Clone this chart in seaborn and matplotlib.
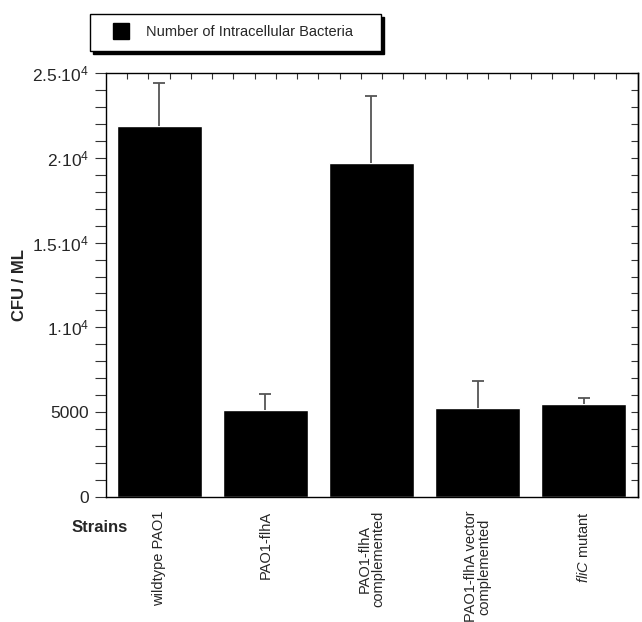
import numpy as np
import seaborn as sns
import matplotlib.pyplot as plt
import matplotlib.ticker as mtick

sns.set_theme(style="ticks")
plt.rcParams["font.family"] = ["Liberation Sans", "DejaVu Sans"]
plt.rcParams["mathtext.fontset"] = "custom"
plt.rcParams["mathtext.rm"] = "Liberation Sans"
plt.rcParams["mathtext.it"] = "Liberation Sans:italic"
plt.rcParams["mathtext.bf"] = "Liberation Sans:bold"

strains = [
    "wildtype PAO1",
    "PAO1-flhA",
    "PAO1-flhA\ncomplemented",
    "PAO1-flhA vector\ncomplemented",
    r"$\it{fliC}$ mutant",
]
cfu = [21900, 5150, 19700, 5250, 5500]
cfu_err = [2500, 950, 3950, 1600, 320]
ytick_vals = [0, 5000, 10000, 15000, 20000, 25000]
ytick_labels = ["0", "5000", r"$1{\cdot}10^{4}$", r"$1.5{\cdot}10^{4}$",
                r"$2{\cdot}10^{4}$", r"$2.5{\cdot}10^{4}$"]
legend_label = "Number of Intracellular Bacteria"

fig = plt.figure(figsize=(6.42, 6.22), dpi=100)
ax = fig.add_axes([106 / 642, 1 - 497 / 622, 532 / 642, 424 / 622])

sns.barplot(x=strains, y=cfu, color="black", saturation=1, width=0.8,
            errorbar=None, ax=ax)
eb = ax.errorbar(range(len(cfu)), cfu, yerr=[np.zeros(len(cfu)), cfu_err],
                 fmt="none", ecolor="#555555", elinewidth=1.3, capsize=4,
                 capthick=1.3)
# only the upper whisker gets a cap
eb[1][0].remove()

ax.set_xlim(-0.5, 4.51)
ax.set_ylim(0, 25000)
ax.set_yticks(ytick_vals, ytick_labels)
ax.yaxis.set_minor_locator(mtick.MultipleLocator(1000))
ax.tick_params(axis="y", which="both", direction="out", length=8,
               width=0.8, labelsize=12.5, color="#333333", pad=4)

ax.set_xticks(range(len(strains)), strains, rotation=90, ha="center",
              va="top", fontsize=10.5, linespacing=1.0)
ax.tick_params(axis="x", which="major", length=0, pad=10)
ax.xaxis.set_minor_locator(mtick.FixedLocator(np.arange(-0.3, 4.5, 0.2)))
ax.tick_params(axis="x", which="minor", top=True, bottom=False,
               direction="in", length=4, width=0.8, color="#333333")

sec_r = ax.secondary_yaxis("right")
sec_r.set_yticks(ytick_vals)
sec_r.yaxis.set_minor_locator(mtick.MultipleLocator(1000))
sec_r.tick_params(which="both", direction="in", length=5, width=0.8,
                  labelright=False, color="#333333")
ax.tick_params(axis="y", which="both", right=False)

for side in ["left", "right", "top", "bottom"]:
    ax.spines[side].set_visible(True)
    ax.spines[side].set_color("black")
    ax.spines[side].set_linewidth(1.0)
sec_r.spines["right"].set_linewidth(1.0)

ax.set_xlabel("")
ax.set_ylabel("")
fig.text(20 / 642, 1 - 285 / 622, "CFU / ML", rotation=90, ha="center",
         va="center", fontsize=12, fontweight="bold")
fig.text(72 / 642, 1 - 528 / 622, "Strains", ha="left", va="center",
         fontsize=12, fontweight="bold")

handle = plt.Line2D([], [], color="black", marker="s", linestyle="none",
                    markersize=11)
fig.legend(handles=[handle], labels=[legend_label + "    "], loc="center",
           bbox_to_anchor=(235.5 / 642, 1 - 32.5 / 622), fontsize=10.5,
           frameon=True, fancybox=False, edgecolor="black", framealpha=1,
           shadow={"color": "black", "alpha": 1}, handlelength=2.6,
           handletextpad=0.4, borderpad=0.8)
leg = fig.legends[0]
leg.get_frame().set_linewidth(1.0)

fig.savefig("out.png", dpi=100)
